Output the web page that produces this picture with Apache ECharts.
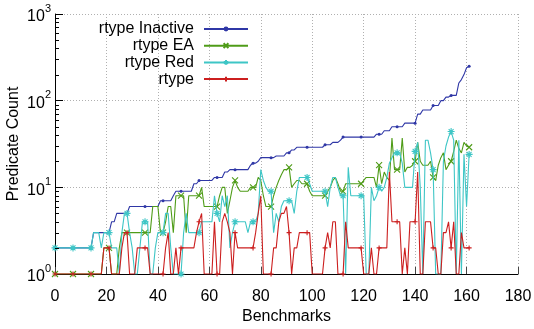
<!DOCTYPE html>
<html><head><meta charset="utf-8">
<script src="https://cdn.jsdelivr.net/npm/echarts@6/dist/echarts.min.js"></script>
<style>html,body{margin:0;padding:0;background:#fff}#c{width:534px;height:329px}</style>
</head><body><div id="c"></div>
<script>
const seriesNames = ['rtype Inactive', 'rtype EA', 'rtype Red', 'rtype'];

const inactive = [
  2,2,2,2,2,2,2,2,2,2,
  2,2,2,2,2,3,3,3,3,3,
  3,3,4,4,5,5,5,5,5,6,
  6,6,6,6,6,6,6,6,6,6,
  6,7,7,7,7,7,8,9,9,9,
  9,9,9,9,11,11,12,12,12,12,
  12,12,13,13,13,13,15,15,16,16,
  16,16,16,16,16,16,18,19,19,20,
  22,22,22,22,22,22,23,23,23,23,
  25,25,27,27,29,29,29,29,29,29,
  29,29,29,29,29,31,31,31,33,33,
  33,35,38,38,38,38,38,38,38,38,
  38,38,38,38,38,41,41,41,45,45,
  45,50,50,50,50,50,55,55,55,55,
  55,70,70,78,78,78,78,88,88,88,
  100,100,110,110,115,115,115,160,175,200,
  240,250
];

const ea = [
  1,1,1,1,1,1,1,1,1,1,
  1,1,1,1,1,1,1,1,1,2,
  2,2,1,1,1,2,3,3,3,3,
  3,3,3,3,3,3,3,3,6,6,
  6,3,3,4,6,6,3,8,8,8,
  8,3,8,8,8,8,8,10,6,6,
  6,6,6,6,8,10,10,5,7,10,
  12,10,9,9,9,9,10,10,10,13,
  12,8,6,6,6,8,10,12,14,16,
  16,17,10,11,12,12,11,11,11,9,
  8,8,8,8,8,8,9,10,12,13,
  11,9,9,11,11,11,11,11,11,11,
  12,13,13,13,13,10,18,11,15,13,
  12,37,16,16,16,37,15,17,17,18,
  20,33,20,18,18,18,20,13,12,18,
  22,25,16,18,20,26,35,28,25,33,
  30,29
];

const red = [
  2,2,2,2,2,2,2,2,2,2,
  2,2,2,2,2,3,3,3,2,3,
  3,3,2,2,2,1,3,5,5,3,
  2,1,1,2,4,4,4,1,1,2,
  3,3,3,5,5,2,1,1,1,1,
  3,5,3,3,3,3,3,4,4,4,
  4,4,8,5,4,8,6,8,2,3,
  4,4,4,4,4,3,4,4,4,5,
  16,12,10,9,9,3,5,4,6,7,
  7,7,7,5,9,13,13,13,13,11,
  9,9,9,9,9,9,6,10,13,13,
  10,8,8,1,17,8,8,8,8,8,
  8,1,1,10,7,8,10,9,10,13,
  19,22,25,25,25,19,10,10,10,10,
  26,33,10,1,35,35,25,16,1,1,
  1,20,30,38,44,35,1,35,1,24,
  6,24
];

const rtype = [
  1,1,1,1,1,1,1,1,1,1,
  1,1,1,1,1,1,1,1,1,2,
  2,2,1,1,1,1,2,3,3,1,
  1,1,2,2,2,2,2,1,1,1,
  1,1,1,2,3,1,1,2,1,2,
  2,2,2,2,2,3,4,5,1,1,
  1,1,4,1,1,4,5,4,3,1,
  3,2,2,2,2,2,2,2,3,5,
  8,1,1,1,1,2,2,4,5,5,
  6,3,1,2,2,3,3,3,3,3,
  1,1,1,1,1,2,3,2,4,4,
  1,1,1,4,2,2,2,2,2,2,
  1,1,1,2,1,1,2,2,2,2,
  15,4,4,4,4,1,2,1,4,4,
  4,15,1,1,4,4,4,2,2,1,
  1,3,3,4,2,4,1,1,3,2,
  2,2
];

const yMinorTicks = [2,3,4,5,6,7,8,9,20,30,40,50,60,70,80,90,200,300,400,500,600,700,800,900];

const FONT = '"Liberation Sans", Arial, sans-serif';
const colors = ['#2f37a6', '#4f9c18', '#3ec6c6', '#cc1f1f'];
const symbols = [
  'circle',
  'path://M0,0L10,10M10,0L0,10',
  'path://M5,0L5,10M0,5L10,5M1.5,1.5L8.5,8.5M8.5,1.5L1.5,8.5',
  'path://M5,0L5,10M0,5L10,5'
];
const symSizes = [3, 6, 7, 5];
const allData = [inactive, ea, red, rtype];

const chart = echarts.init(document.getElementById('c'), null, {renderer: 'canvas'});

const lineSeries = allData.map((arr, k) => ({
  name: seriesNames[k],
  type: 'line',
  data: arr.map((v, i) => [i, v]),
  symbol: symbols[k],
  symbolSize: (val, params) => (params.dataIndex % 7 === 0 ? symSizes[k] : 0),
  showAllSymbol: true,
  lineStyle: {width: 1.1, color: colors[k]},
  itemStyle: {color: colors[k], borderColor: colors[k], borderWidth: k === 0 ? 0 : 1.1},
  emphasis: {disabled: true},
  animation: false,
  z: 2 + k
}));

const minorTickSeries = {
  type: 'custom',
  silent: true,
  clip: false,
  animation: false,
  z: 20,
  data: yMinorTicks.map(v => [0, v]),
  renderItem: (params, api) => {
    const p = api.coord([api.value(0), api.value(1)]);
    const y = Math.round(p[1]) + 0.5;
    return {type: 'line', shape: {x1: p[0], y1: y, x2: p[0] + 4, y2: y}, style: {stroke: '#000', lineWidth: 1}};
  }
};

const legends = seriesNames.map((n, i) => ({
  data: [n],
  orient: 'vertical',
  align: 'right',
  right: 285,
  top: 21 + i * 16.7,
  itemWidth: 44,
  itemHeight: 6,
  padding: 0,
  itemGap: 0,
  selectedMode: false,
  textStyle: {fontSize: 16, color: '#000', fontFamily: FONT, lineHeight: 16, padding: [0, 5, 0, 0]}
}));

chart.setOption({
  animation: false,
  backgroundColor: '#fff',
  grid: {left: 55, right: 16, top: 14, bottom: 55, containLabel: false, outerBoundsMode: 'none'},
  legend: legends,
  xAxis: {
    type: 'value', min: 0, max: 180, interval: 20,
    name: 'Benchmarks', nameLocation: 'middle', nameGap: 35, nameMoveOverlap: false,
    nameTextStyle: {fontSize: 16, color: '#000', fontFamily: FONT},
    axisLine: {lineStyle: {color: '#000', width: 1}},
    axisTick: {inside: true, length: 7, lineStyle: {color: '#444'}},
    axisLabel: {fontSize: 16, color: '#000', fontFamily: FONT, margin: 15},
    splitLine: {show: true, lineStyle: {color: '#b0b0b0', type: [1, 2], width: 1}}
  },
  yAxis: {
    type: 'log', logBase: 10, min: 1, max: 1000,
    name: 'Predicate Count', nameLocation: 'middle', nameGap: 33, nameRotate: 90, nameMoveOverlap: false,
    nameTextStyle: {fontSize: 16, color: '#000', fontFamily: FONT},
    axisLine: {show: true, lineStyle: {color: '#000', width: 1}},
    axisTick: {show: true, inside: true, length: 8, lineStyle: {color: '#000'}},
    axisLabel: {
      margin: 4,
      formatter: v => '{b|10}{s|' + Math.round(Math.log10(v)) + '}',
      rich: {
        b: {fontSize: 16, color: '#000', fontFamily: FONT, lineHeight: 22, verticalAlign: 'bottom'},
        s: {fontSize: 11, color: '#000', fontFamily: FONT, lineHeight: 22, verticalAlign: 'top'}
      }
    },
    splitLine: {show: true, lineStyle: {color: '#b0b0b0', type: [1, 2], width: 1}}
  },
  series: lineSeries.concat([minorTickSeries])
});
</script>
</body></html>
